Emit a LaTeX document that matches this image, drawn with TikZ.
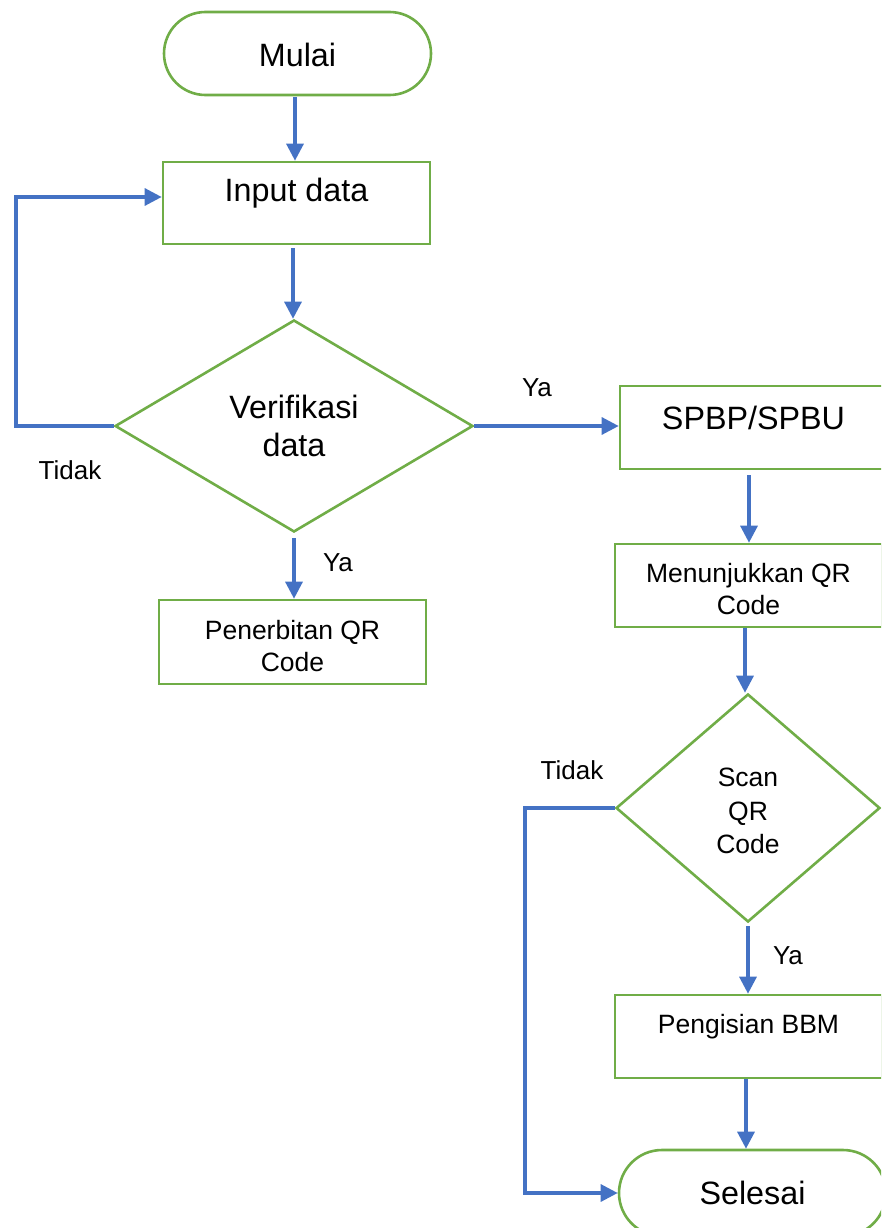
\documentclass[tikz,border=0pt]{standalone}
\usepackage{fontspec}
\setmainfont{Liberation Sans}
\usetikzlibrary{shapes.geometric,shapes.misc,arrows.meta}
\definecolor{gr}{HTML}{70AD47}
\definecolor{bl}{HTML}{4472C4}
\tikzset{
  boxshape/.style={draw=gr,line width=2.6pt,rectangle,minimum width=267pt,inner sep=0pt},
  termshape/.style={draw=gr,line width=2.6pt,rounded rectangle,minimum width=267pt,minimum height=83pt,inner sep=0pt},
  decshape/.style={draw=gr,line width=2.6pt,diamond,inner sep=0pt},
  flow/.style={draw=bl,line width=3.2pt,-{Triangle[length=17pt,width=17pt]}},
  big/.style={font=\fontsize{32.3}{38}\selectfont,align=center,inner sep=0pt},
  mid/.style={font=\fontsize{26.5}{32}\selectfont,align=center,inner sep=0pt},
  lbl/.style={font=\fontsize{26}{30}\selectfont,inner sep=0pt},
}
\begin{document}
\begin{tikzpicture}[x=1pt,y=-1pt]
\useasboundingbox (0,0) rectangle (881,1228);
\clip (0,0) rectangle (881,1228);
% shapes
\node[termshape] (mulai) at (297.5,53.5) {};
\node[big] (tmulai) at (297.5,55) {Mulai};
\node[boxshape,minimum height=82pt] (inp) at (296.5,203) {};
\node[big] (tinp) at (296.5,193) {Input data};
\node[decshape,minimum width=358pt,minimum height=212pt] (ver) at (294,426) {};
\node[big] (tver) at (294,426) {Verifikasi\\data};
\node[boxshape,minimum height=84pt] (pen) at (292.5,642) {};
\node[mid] (tpen) at (292.5,646) {Penerbitan QR\\Code};
\node[boxshape,minimum height=83pt] (spbp) at (753.5,427.5) {};
\node[big] (tspbp) at (753.5,418) {SPBP/SPBU};
\node[boxshape,minimum height=83pt] (menu) at (748.5,585.5) {};
\node[mid] (tmenu) at (748.5,589) {Menunjukkan QR\\Code};
\node[decshape,minimum width=264pt,minimum height=228pt] (scan) at (748,808) {};
\node[mid,font=\fontsize{26.5}{33.5}\selectfont] (tscan) at (748,811) {Scan\\QR\\Code};
\node[boxshape,minimum height=83pt] (peng) at (748.5,1036.5) {};
\node[mid] (tpeng) at (748.5,1027) {Pengisian BBM};
\node[termshape,minimum height=86pt] (sel) at (752.5,1193) {};
\node[big] (tsel) at (752.5,1193) {Selesai};
% labels
\node[lbl] (l1) at (70,470) {Tidak};
\node[lbl] (l2) at (537,388) {Ya};
\node[lbl] (l3) at (338,563) {Ya};
\node[lbl] (l4) at (572,770) {Tidak};
\node[lbl] (l5) at (788,956) {Ya};
% connectors
\coordinate (c1) at (16,197);
\coordinate (c2) at (525,1193);
\draw[flow] ([xshift=-2.5pt,yshift=-1pt]mulai.south) -- ([xshift=-2.5pt]mulai.south |- inp.north);
\draw[flow] ([xshift=-3.5pt,yshift=-3pt]inp.south) -- ([xshift=-3.5pt]inp.south |- ver.north);
\draw[flow] (ver.west) -| (c1) -- (inp.west |- c1);
\draw[flow] ([yshift=-5pt]ver.south) -- (ver.south |- pen.north);
\draw[flow] (ver.east) -- (ver.east -| spbp.west);
\draw[flow] ([xshift=-4.5pt,yshift=-5pt]spbp.south) -- ([xshift=-4.5pt]spbp.south |- menu.north);
\draw[flow] ([xshift=-3.5pt]menu.south) -- ([xshift=-3.5pt]menu.south |- scan.north);
\draw[flow] ([yshift=-3pt]scan.south) -- (scan.south |- peng.north);
\draw[flow] ([xshift=-2.5pt]peng.south) -- ([xshift=-2.5pt]peng.south |- sel.north);
\draw[flow] (scan.west) -| (c2) -- (sel.west);
\end{tikzpicture}
\end{document}
